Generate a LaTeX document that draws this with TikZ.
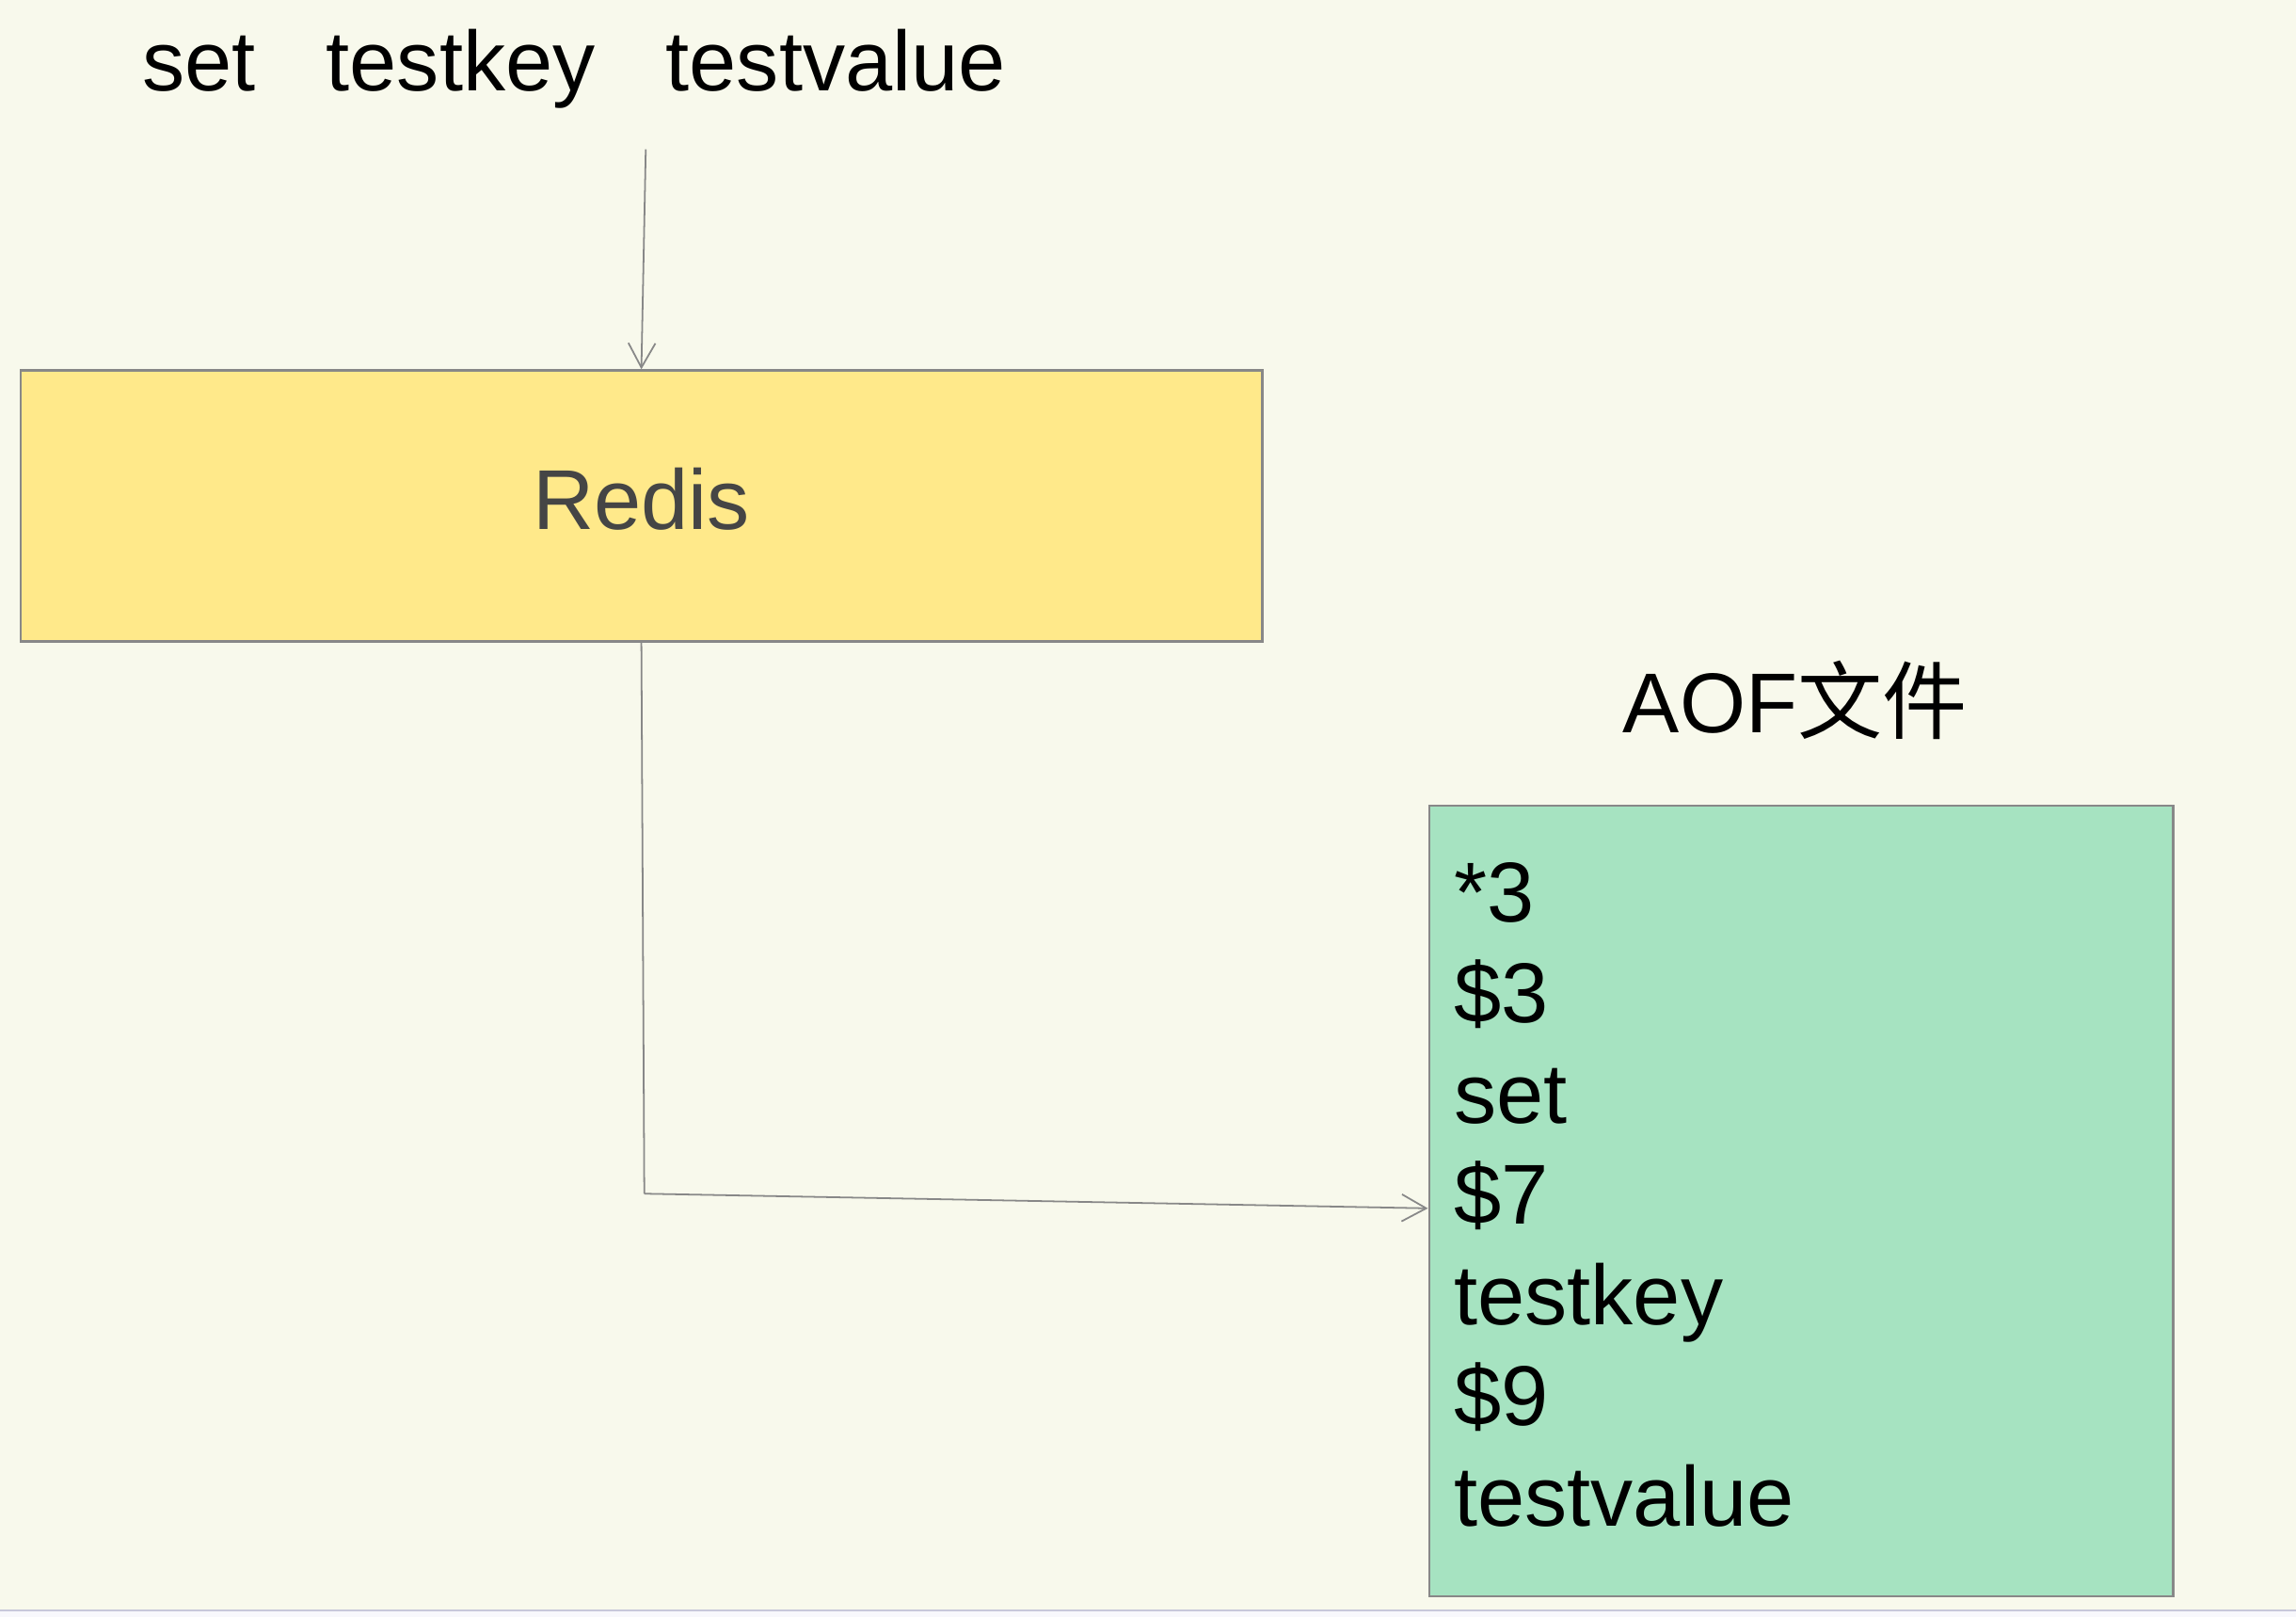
\documentclass[tikz,border=0pt]{standalone}
\usepackage{fontspec}
\setmainfont{Liberation Sans}
\newfontfamily\cjkfont{Noto Sans CJK SC}
\usetikzlibrary{arrows.meta}
\definecolor{bgcol}{HTML}{F8F9EC}
\definecolor{footcol}{HTML}{F8F8FC}
\definecolor{rulecol}{HTML}{C8C8DA}
\definecolor{redisyellow}{HTML}{FFE98A}
\definecolor{aofgreen}{HTML}{A6E3C1}
\definecolor{edgegray}{HTML}{888888}
\begin{document}
\begin{tikzpicture}[x=0.02cm,y=-0.02cm,
	box/.style={draw=edgegray, line width=1pt, inner sep=0pt},
	txt/.style={font=\fontsize{33}{39.1}\selectfont, anchor=base, inner sep=0pt},
	flow/.style={draw=edgegray, line width=0.65pt, -{Straight Barb[length=9.5pt,width=10.5pt]}}]
	\useasboundingbox (0,0) rectangle (1568,1104);
	\fill[bgcol] (0,0) rectangle (1568,1099.5);
	\fill[footcol] (0,1099.5) rectangle (1568,1104);
	\draw[rulecol, line width=0.6pt] (0,1099.5) -- (1568,1099.5);
	\node[txt] at (392,62) (cmd) {set~~~testkey~~~testvalue};
	\node[box, fill=redisyellow, minimum width=16.96cm, minimum height=3.7cm,
		font=\fontsize{33}{39.1}\selectfont, text=black!73, text depth=6pt] at (438,345.5) (redis) {Redis};
	\node[txt] at (1226,500) (aoflabel) {AOF{\cjkfont 文件}};
	\node[box, fill=aofgreen, minimum width=10.16cm, minimum height=10.8cm, inner xsep=0.34cm,
		text width=9.48cm, align=left, text depth=239.8pt, font=\fontsize{33}{39.1}\selectfont] at (1230,820) (aof)
		{*3\\\$3\\set\\\$7\\testkey\\\$9\\testvalue};
	\coordinate (cmdout) at (441,102);
	\coordinate (turn) at (440,815);
	\draw[flow] (cmdout) -- (redis.north);
	\draw[edgegray, line width=0.65pt] (redis.south) -- (turn);
	\draw[flow] (turn) -- ([yshift=-0.1cm]aof.west);
\end{tikzpicture}
\end{document}
